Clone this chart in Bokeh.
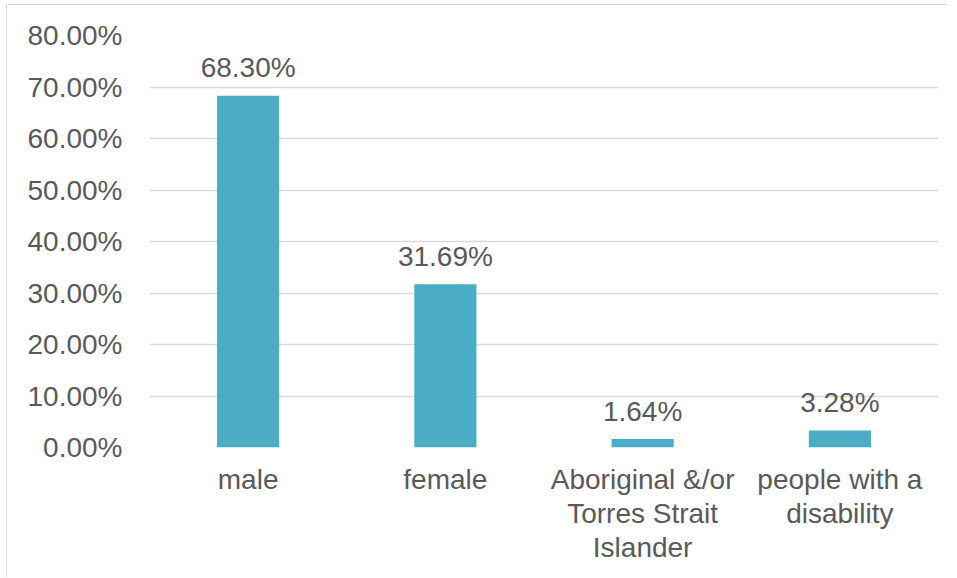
from bokeh.plotting import figure
from bokeh.models import ColumnDataSource, FixedTicker, PrintfTickFormatter, Range1d, FactorRange
from bokeh.core.properties import value
from bokeh.embed import file_html
from bokeh.resources import INLINE

categories = ["male", "female", "Aboriginal &/or\nTorres Strait\nIslander", "people with a\ndisability"]
values = [68.30, 31.69, 1.64, 3.28]
y_ticks = [0, 10, 20, 30, 40, 50, 60, 70, 80]

FONT = "Liberation Sans"
TEXT = "#595959"

src = ColumnDataSource(dict(cat=categories, val=values, lbl=[f"{v:.2f}%" for v in values]))

p = figure(width=941, height=573, output_backend="svg", toolbar_location=None,
           x_range=FactorRange(factors=categories), y_range=Range1d(0, 80),
           min_border_left=142, min_border_right=10, min_border_top=30, min_border_bottom=131)
p.styles = {"border-left": "1px solid #d9d9d9", "border-top": "1px solid #d9d9d9",
            "margin-left": "6px", "margin-top": "4px"}
p.outline_line_color = None
p.background_fill_color = "white"
p.border_fill_color = "white"

p.vbar(x="cat", top="val", bottom=0, width=0.315, source=src, fill_color="#4bacc6", line_color=None)
p.text(x="cat", y="val", text="lbl", source=src, text_align="center", text_baseline="alphabetic",
       y_offset=-28, text_font=value(FONT), text_font_size="28px", text_color=TEXT)

p.yaxis.ticker = FixedTicker(ticks=y_ticks)
p.yaxis.formatter = PrintfTickFormatter(format="%.2f%%")
for ax in (p.xaxis[0], p.yaxis[0]):
    ax.axis_line_color = None
    ax.major_tick_line_color = None
    ax.minor_tick_line_color = None
    ax.major_tick_out = 0
    ax.major_tick_in = 0
    ax.major_label_text_font = FONT
    ax.major_label_text_font_size = "28px"
    ax.major_label_text_color = TEXT
p.yaxis.major_label_standoff = 27
p.xaxis.major_label_standoff = 16
p.xaxis.major_label_text_line_height = 1.1

p.xgrid.grid_line_color = None
p.ygrid.grid_line_color = "#d9d9d9"
p.ygrid.grid_line_width = 1.5
p.ygrid.ticker = FixedTicker(ticks=y_ticks)

open("out.html", "w").write(file_html(p, INLINE))
